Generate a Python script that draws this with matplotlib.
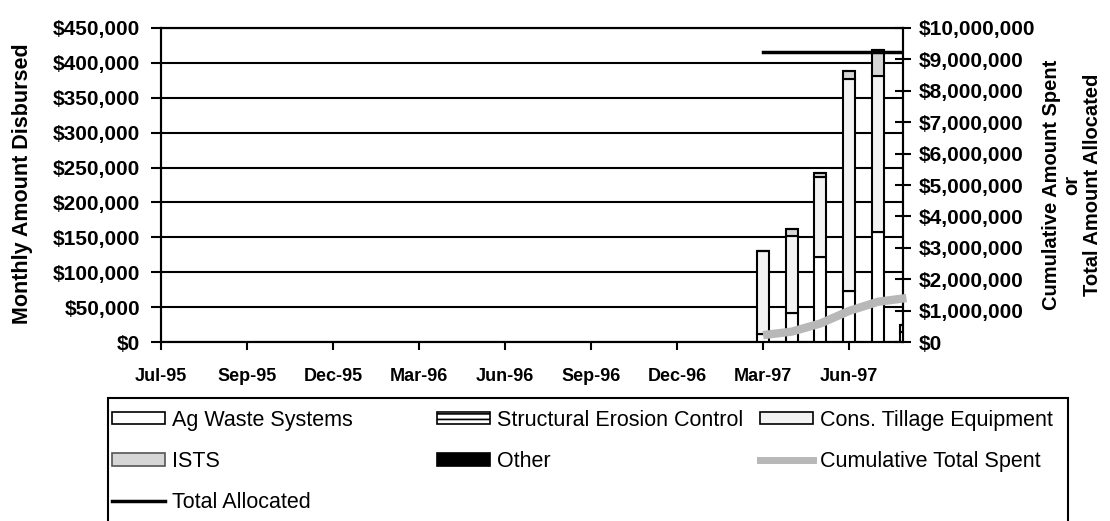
import numpy as np
import pandas as pd
import matplotlib
matplotlib.use('Agg')
import matplotlib.pyplot as plt
from matplotlib.patches import Patch, Rectangle
from matplotlib.lines import Line2D
from matplotlib.ticker import MultipleLocator

plt.rcParams['font.family'] = ['Liberation Sans', 'DejaVu Sans']
plt.rcParams['hatch.linewidth'] = 1.2

W, H = 1110, 521

# category axis runs month by month, Jun-95 .. Aug-97
months = pd.period_range('1995-06', '1997-08', freq='M')
tick_labels = ['Jul-95', 'Sep-95', 'Dec-95', 'Mar-96', 'Jun-96',
               'Sep-96', 'Dec-96', 'Mar-97', 'Jun-97']

bar_months = ['1997-03', '1997-04', '1997-05', '1997-06', '1997-07', '1997-08']
ag_waste = [12000, 42000, 122500, 73500, 158000, 14300]
structural = [0, 0, 0, 0, 0, 0]
cons_tillage = [119000, 110000, 114000, 303000, 223000, 10000]
ists = [0, 9600, 6000, 12300, 37000, 0]
other = [0, 0, 0, 0, 0, 0]

cumulative = [220000, 330000, 590000, 990000, 1280000, 1400000]
allocated = [9230000, 9230000, 9230000, 9230000, 9230000, 9230000]

x = [months.get_loc(pd.Period(m, 'M')) for m in bar_months]

fig = plt.figure(figsize=(W / 100, H / 100), dpi=100)
ax = fig.add_axes([161 / W, 1 - 342 / H, (903 - 161) / W, (342 - 28) / H])

# stacked monthly bars
series = [
    (ag_waste, 'white', None),
    (structural, 'white', '---'),
    (cons_tillage, '#f3f3f3', None),
    (ists, '#d6d6d6', None),
    (other, 'black', None),
]
bottom = np.zeros(len(x))
for vals, fc, hatch in series:
    vals = np.array(vals, dtype=float)
    ax.bar(x, vals, 0.42, bottom=bottom, facecolor=fc, edgecolor='black',
           hatch=hatch, linewidth=1.5, zorder=3)
    bottom += vals

ax.set_xlim(0, 25.88)
ax.set_ylim(0, 450000)
yt = np.arange(0, 450001, 50000)
ax.set_yticks(yt, [f'${v:,.0f}' for v in yt], fontsize=15, fontweight='bold')
ax.set_xticks(range(0, 25, 3), tick_labels, fontsize=13, fontweight='bold')
ax.yaxis.grid(True, color='black', linewidth=1.5)
ax.set_axisbelow(True)
ax.tick_params(axis='y', direction='out', length=7, width=1.5, pad=8)
ax.tick_params(axis='x', direction='out', length=6, width=1.5, pad=13)
for s in ax.spines.values():
    s.set_linewidth(1.5)

# cumulative / allocated on the right scale
ax2 = ax.twinx()
ax2.set_ylim(0, 10000000)
ax2.yaxis.set_major_locator(MultipleLocator(1000000))
rt = np.arange(0, 10000001, 1000000)
ax2.set_yticks(rt, [f'${v:,.0f}' for v in rt], fontsize=15, fontweight='bold')
ax2.tick_params(axis='y', direction='inout', length=12, width=1.5, pad=5)
for s in ax2.spines.values():
    s.set_linewidth(1.5)
ax2.plot(x, cumulative, color='#b8b8b8', linewidth=6, solid_capstyle='butt',
         clip_on=False, zorder=4)
ax2.plot(x, allocated, color='black', linewidth=2.5, zorder=5)

fig.text(23 / W, 1 - 184 / H, 'Monthly Amount Disbursed', rotation=90,
         ha='center', va='center', fontsize=15.5, fontweight='bold')
fig.text(1072 / W, 1 - 185 / H, 'Cumulative Amount Spent\nor\nTotal Amount Allocated',
         rotation=90, ha='center', va='center', multialignment='center',
         fontsize=14.5, fontweight='bold', linespacing=1.1)

# legend: framed box with three columns
h_ag = Patch(facecolor='white', edgecolor='black', linewidth=1.2)
h_se = Patch(facecolor='white', edgecolor='black', hatch='---', linewidth=1.2)
h_ct = Patch(facecolor='#f3f3f3', edgecolor='black', linewidth=1.2)
h_is = Patch(facecolor='#d6d6d6', edgecolor='#555555', linewidth=1.2)
h_ot = Patch(facecolor='black', edgecolor='black', linewidth=1.2)
h_cu = Line2D([], [], color='#b8b8b8', linewidth=5)
h_ta = Line2D([], [], color='black', linewidth=2.5)

columns = [
    (112, [h_ag, h_is, h_ta], ['Ag Waste Systems', 'ISTS', 'Total Allocated']),
    (437, [h_se, h_ot], ['Structural Erosion Control', 'Other']),
    (760, [h_ct, h_cu], ['Cons. Tillage Equipment', 'Cumulative Total Spent']),
]
for xp, hs, ls in columns:
    fig.legend(hs, ls, loc='upper left', bbox_to_anchor=(xp / W, 1 - 410 / H),
               frameon=False, borderpad=0, borderaxespad=0, handlelength=2.45,
               handleheight=0.5, handletextpad=0.35, labelspacing=0.93,
               fontsize=15.5)

fig.add_artist(Rectangle((108 / W, 1 - 545 / H), (1068 - 108) / W, (545 - 398) / H,
                         transform=fig.transFigure, fill=False, linewidth=1.5,
                         edgecolor='black', clip_on=False))

fig.savefig('out.png', dpi=100)
